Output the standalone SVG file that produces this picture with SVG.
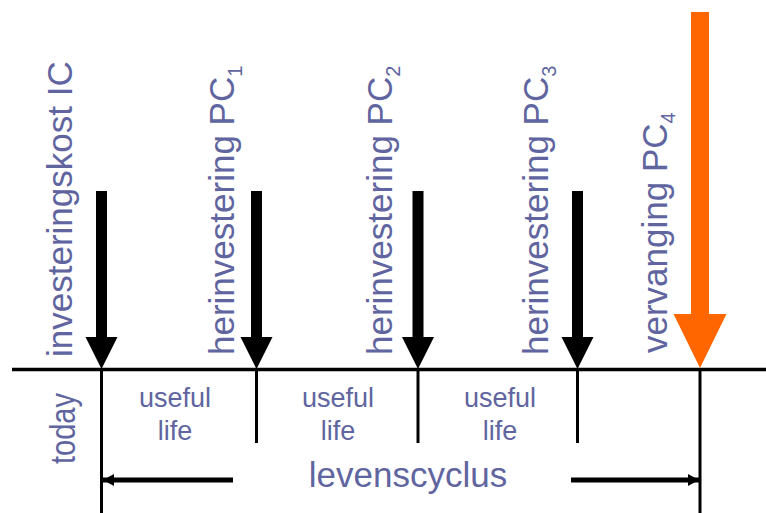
<svg xmlns="http://www.w3.org/2000/svg" width="766" height="513" viewBox="0 0 766 513">
  <defs>
    <style>
      .lbl { font-family: "Liberation Sans", Arial, sans-serif; fill: #60659f; }
      .rot { font-size: 35px; }
      .sub { font-size: 20px; }
      .ul { font-size: 27px; text-anchor: middle; }
      .blk { fill: #000; }
      .org { fill: #ff6600; }
      .ln { stroke: #000; fill: none; }
    </style>
    <marker id="ah" markerUnits="userSpaceOnUse" markerWidth="12" markerHeight="12" refX="11" refY="6" orient="auto">
      <path d="M0,0 L11,6 L0,12 Z" fill="#000"/>
    </marker>
  </defs>

  <g id="connectors">
    <line class="ln" x1="12" y1="369.5" x2="766" y2="369.5" stroke-width="3.5"/>
    <line class="ln" x1="101.5" y1="369" x2="101.5" y2="513" stroke-width="3"/>
    <line class="ln" x1="256.5" y1="369" x2="256.5" y2="443" stroke-width="3"/>
    <line class="ln" x1="418" y1="369" x2="418" y2="443" stroke-width="3"/>
    <line class="ln" x1="577.5" y1="369" x2="577.5" y2="443" stroke-width="3"/>
    <line class="ln" x1="700" y1="369" x2="700" y2="513" stroke-width="3"/>
    <line class="ln" x1="233" y1="480" x2="103" y2="480" stroke-width="5" marker-end="url(#ah)"/>
    <line class="ln" x1="571" y1="480" x2="699" y2="480" stroke-width="5" marker-end="url(#ah)"/>
  </g>

  <g id="node-ic">
    <polygon class="blk" points="96,191 107,191 107,337 117.5,337 101.5,369 85.5,337 96,337"/>
    <text class="lbl rot" transform="translate(72,357) rotate(-90)">investeringskost IC</text>
  </g>

  <g id="node-pc1">
    <polygon class="blk" points="251,191 262,191 262,337 272.5,337 256.5,369 240.5,337 251,337"/>
    <text class="lbl rot" transform="translate(234,355) rotate(-90)">herinvestering PC<tspan class="sub" dy="8">1</tspan></text>
  </g>

  <g id="node-pc2">
    <polygon class="blk" points="412.5,191 423.5,191 423.5,337 434,337 418,369 402,337 412.5,337"/>
    <text class="lbl rot" transform="translate(392,355) rotate(-90)">herinvestering PC<tspan class="sub" dy="8">2</tspan></text>
  </g>

  <g id="node-pc3">
    <polygon class="blk" points="572,191 583,191 583,337 593.5,337 577.5,369 561.5,337 572,337"/>
    <text class="lbl rot" transform="translate(548,355) rotate(-90)">herinvestering PC<tspan class="sub" dy="8">3</tspan></text>
  </g>

  <g id="node-pc4">
    <polygon class="org" points="691,12 709,12 709,314 726.5,314 700,368 673.5,314 691,314"/>
    <text class="lbl rot" transform="translate(667,353) rotate(-90)">vervanging PC<tspan class="sub" dy="8">4</tspan></text>
  </g>

  <g id="node-today">
    <text class="lbl" font-size="35" transform="translate(75,464) rotate(-90)" textLength="71" lengthAdjust="spacingAndGlyphs">today</text>
  </g>

  <g id="node-life1">
    <text class="lbl ul" x="175" y="407">useful</text>
    <text class="lbl ul" x="175" y="440">life</text>
  </g>
  <g id="node-life2">
    <text class="lbl ul" x="338" y="407">useful</text>
    <text class="lbl ul" x="338" y="440">life</text>
  </g>
  <g id="node-life3">
    <text class="lbl ul" x="500" y="407">useful</text>
    <text class="lbl ul" x="500" y="440">life</text>
  </g>

  <g id="node-levenscyclus">
    <text class="lbl" font-size="35" x="408" y="487" text-anchor="middle">levenscyclus</text>
  </g>
</svg>
